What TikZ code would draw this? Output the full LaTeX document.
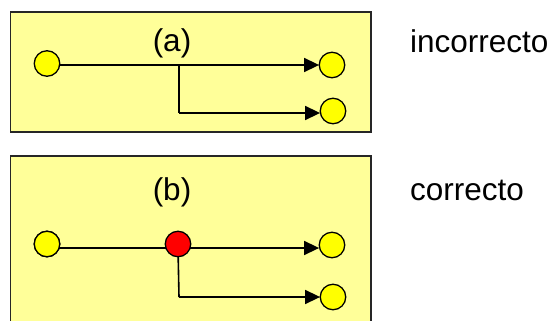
\documentclass[tikz,border=0pt]{standalone}
\usepackage{fontspec}
\setmainfont{Liberation Sans}
\usetikzlibrary{arrows.meta}
\definecolor{boxfill}{HTML}{FFFF99}
\definecolor{dotyellow}{HTML}{FFFF00}
\definecolor{dotred}{HTML}{FF0000}
\tikzset{
  panel/.style={draw=black!85, line width=1.4pt, fill=boxfill},
  dot/.style={circle, draw=black, line width=1.3pt, fill=dotyellow, minimum size=25.5pt, inner sep=0pt},
  reddot/.style={dot, fill=dotred},
  wire/.style={line width=1.6pt, black},
  arr/.style={wire, -{Triangle[length=15pt,width=14pt]}, shorten >=-0.5pt},
  lbl/.style={font=\fontsize{31.5}{36}\selectfont, inner sep=0pt, anchor=base}
}
\begin{document}
\begin{tikzpicture}[x=1pt,y=-1pt]
\useasboundingbox (0,0) rectangle (552,321);
\clip (0,0) rectangle (552,321);
% panel (a)
\draw[panel] (10.5,12) rectangle (371,132);
\node[lbl] (la) at (172,52) {(a)};
\node[dot] (a1) at (47,63.5) {};
\node[dot] (a2) at (332,65) {};
\node[dot] (a3) at (333,111) {};
\coordinate (aj) at (179,65);
\coordinate (ak) at (179,113);
\draw[wire] (a1.east |- aj) -- (aj);
\draw[arr] (aj) -- (a2);
\draw[wire] (aj) -- (ak);
\draw[arr] (ak) -- (a3.west |- ak);
% panel (b)
\draw[panel] (10.5,156) rectangle (371,340);
\node[lbl] (lb) at (172,200) {(b)};
\node[dot] (b1) at (47,244) {};
\node[dot] (b3) at (332,245) {};
\node[dot] (b4) at (333,297) {};
\coordinate (bl) at (47,248);
\coordinate (br) at (178,248);
\draw[wire] (bl) -- (br);
\draw[arr] (br) -- (b3.west |- br);
\coordinate (bk) at (179,297);
\draw[wire] (br) -- (bk);
\draw[arr] (bk) -- (b4);
\node[reddot] (b2) at (178,244) {};
\node[dot] at (b1) {};
% side labels
\node[lbl, anchor=base west] (inc) at (410,53) {incorrecto};
\node[lbl, anchor=base west] (cor) at (410,200) {correcto};
\end{tikzpicture}
\end{document}
